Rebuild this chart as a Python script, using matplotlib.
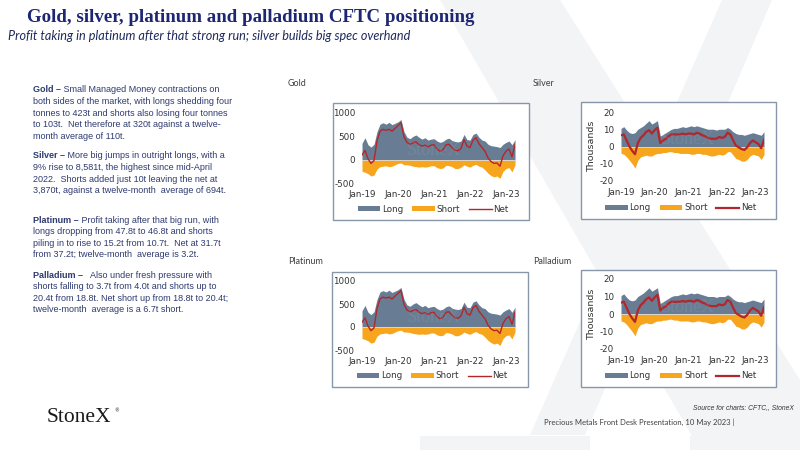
import matplotlib.pyplot as plt
from matplotlib.patches import Rectangle, Polygon
import numpy as np

plt.rcParams["axes.unicode_minus"] = False

# monthly values, Jan-2019 .. Apr-2023
months = np.arange(52)
tick_pos = [0, 12, 24, 36, 48]
tick_labels = ["Jan-19", "Jan-20", "Jan-21", "Jan-22", "Jan-23"]

gold_long = [350, 470, 320, 270, 330, 600, 760, 790, 760, 800, 750, 780,
             810, 860, 600, 480, 450, 500, 530, 480, 440, 470, 420, 440,
             450, 400, 370, 390, 440, 460, 410, 390, 380, 400, 540, 430,
             420, 540, 570, 480, 420, 400, 330, 300, 290, 280, 260, 330,
             370, 400, 320, 430]
gold_short = [-250, -270, -300, -350, -330, -200, -150, -140, -130, -150, -140, -110,
              -80, -70, -110, -110, -120, -140, -150, -160, -150, -160, -150, -130,
              -130, -170, -190, -180, -120, -130, -150, -190, -190, -160, -110, -140,
              -160, -120, -100, -140, -160, -220, -290, -340, -370, -350, -400, -250,
              -190, -170, -260, -110]
gold_net = [100, 200, 20, -80, -20, 400, 610, 650, 630, 650, 610, 670,
            730, 790, 490, 370, 330, 360, 380, 320, 290, 310, 270, 310,
            320, 230, 180, 210, 320, 330, 260, 200, 190, 240, 430, 290,
            260, 420, 470, 340, 260, 180, 40, -40, -80, -70, -140, 80,
            180, 230, 60, 320]

silver_long = [10.5, 11.5, 9.5, 8, 7.5, 8, 10, 11, 12, 13.5, 15, 13,
               14, 15, 6, 7, 8, 9, 10, 10.5, 10.5, 11, 11.5, 11,
               11.5, 12, 11.5, 12, 11.5, 11, 10.5, 10, 10, 10, 9.5, 10,
               10, 10, 11, 10, 8.5, 7.5, 7, 7, 6.5, 7, 7.5, 8,
               7.5, 7, 6.5, 8.6]
silver_short = [-4, -4.5, -6, -8, -10, -12.5, -8, -6, -5.5, -5, -5.5, -5.5,
                -4.5, -4, -4, -3.5, -3.5, -3, -3, -3.5, -3.5, -4, -4, -4,
                -4, -4.5, -4.5, -4, -4, -4.5, -4.5, -5, -5.5, -5.5, -5, -4.5,
                -5, -4.5, -3, -3, -5, -7, -7.5, -8.5, -8.5, -7.5, -5.5, -4.5,
                -5, -5.5, -7.5, -4.7]
silver_net = [6.5, 7, 3.5, 0, -2.5, -4.5, 2, 5, 6.5, 8.5, 9.5, 7.5,
              9.5, 11, 2, 3.5, 4.5, 6, 7, 7, 7, 7, 7.5, 7,
              7.5, 7.5, 7, 8, 7.5, 6.5, 6, 5, 4.5, 4.5, 4.5, 5.5,
              5, 5.5, 8, 7, 3.5, 0.5, -0.5, -1.5, -2, -0.5, 2, 3.5,
              2.5, 1.5, -1, 3.9]

LONG = "#687d93"
SHORT = "#f6a51c"
NET = "#b3262b"
NAVY = "#1c2673"
TEXT = "#2e3a70"

W, H = 800, 450
fig = plt.figure(figsize=(8, 4.5), dpi=100)
fig.patch.set_facecolor("white")


def fx(x):
    return x / W


def fy(y):
    return 1 - y / H


# pale "X" in the background
bg = "#f3f4f6"
for pts in [[(440, 0), (560, 0), (800, 380), (800, 450), (700, 450)],
            [(722, 0), (772, 0), (585, 435), (530, 435)]]:
    fig.patches.append(Polygon([(fx(a), fy(b)) for a, b in pts], closed=True,
                               transform=fig.transFigure, facecolor=bg,
                               edgecolor="none", zorder=0))
for x0, x1 in [(420, 590), (690, 800)]:
    fig.patches.append(Rectangle((fx(x0), fy(450)), fx(x1 - x0), 14 / H,
                                 transform=fig.transFigure, facecolor=bg,
                                 edgecolor="none", zorder=0))

# titles
fig.text(fx(27), fy(17), "Gold, silver, platinum and palladium CFTC positioning",
         family="Liberation Serif", weight="bold", fontsize=13.6, color=NAVY,
         va="center", ha="left")
fig.text(fx(8), fy(36), "Profit taking in platinum after that strong run; silver builds big spec overhand",
         family="Lato", style="italic", fontsize=9.1, color="#1f2a5c",
         va="center", ha="left")

# commentary on the left
paras = [
    ("Gold \u2013", [" Small Managed Money contractions on",
                     "both sides of the market, with longs shedding four",
                     "tonnes to 423t and shorts also losing four tonnes",
                     "to 103t.  Net therefore at 320t against a twelve-",
                     "month average of 110t."], 90),
    ("Silver \u2013", [" More big jumps in outright longs, with a",
                       "9% rise to 8,581t, the highest since mid-April",
                       "2022.  Shorts added just 10t leaving the net at",
                       "3,870t, against a twelve-month  average of 694t."], 156),
    ("Platinum \u2013", [" Profit taking after that big run, with",
                         "longs dropping from 47.8t to 46.8t and shorts",
                         "piling in to rise to 15.2t from 10.7t.  Net at 31.7t",
                         "from 37.2t; twelve-month  average is 3.2t."], 220),
    ("Palladium \u2013", ["   Also under fresh pressure with",
                          "shorts falling to 3.7t from 4.0t and shorts up to",
                          "20.4t from 18.8t. Net short up from 18.8t to 20.4t;",
                          "twelve-month  average is a 6.7t short."], 275),
]
renderer = fig.canvas.get_renderer()
fs_body = 6.5
for head, lines, y0 in paras:
    t = fig.text(fx(33), fy(y0), head, family="Liberation Sans", weight="bold",
                 fontsize=fs_body, color=TEXT, va="center", ha="left")
    wpx = t.get_window_extent(renderer).width
    for i, line in enumerate(lines):
        x = 33 + wpx if i == 0 else 33
        fig.text(fx(x), fy(y0 + i * 11.6), line, family="Liberation Sans",
                 fontsize=fs_body, color=TEXT, va="center", ha="left")


def panel(name, title_xy, frame, box, long_, short_, net, ylim, yticks, thousands, net_lw):
    tx, ty = title_xy
    fig.text(fx(tx), fy(ty), name, family="Lato", fontsize=6.5, color="#404040",
             va="center", ha="left")
    fl, ft, fr, fb = frame
    fig.patches.append(Rectangle((fx(fl), fy(fb)), fx(fr - fl), (fb - ft) / H,
                                 transform=fig.transFigure, facecolor="white",
                                 edgecolor="#8797a9", lw=1.0, zorder=1))
    l, t, r, b = box
    ax = fig.add_axes([fx(l), fy(b), fx(r - l), (b - t) / H])
    ax.set_zorder(2)
    ax.patch.set_alpha(0)
    ax.fill_between(months, 0, long_, color=LONG, lw=0, label="Long")
    ax.fill_between(months, 0, short_, color=SHORT, lw=0, label="Short")
    ax.axhline(0, color="#dcdcdc", lw=0.6)
    ax.text(24, ylim[1] * 0.2, "StoneX", family="Liberation Serif", fontsize=13,
            color="white", alpha=0.07, ha="center", va="center")
    ax.plot(months, net, color=NET, lw=net_lw, label="Net")
    ax.set_xlim(0, 51)
    ax.set_ylim(*ylim)
    ax.set_yticks(yticks)
    ax.set_xticks(tick_pos)
    ax.set_xticklabels(tick_labels)
    for s in ax.spines.values():
        s.set_visible(False)
    ax.tick_params(length=0, labelsize=6.3, colors="#333333", pad=5)
    if thousands:
        ax.set_ylabel("Thousands", fontsize=6.8, color="#333333", labelpad=3)
    cx = (fl + fr) / 2
    ax.legend(loc="center", bbox_to_anchor=(fx(cx + 2), fy(fb - 11)),
              bbox_transform=fig.transFigure, ncol=3, frameon=False,
              fontsize=6.3, handlelength=2.6, handleheight=0.45,
              columnspacing=1.0, handletextpad=0.2, labelcolor="#333333")
    return ax


gold_ticks = [-500, 0, 500, 1000]
silver_ticks = [-20, -10, 0, 10, 20]

panel("Gold", (288, 84), (333, 103, 529, 220), (362, 113, 515, 183),
      gold_long, gold_short, gold_net, (-500, 1000), gold_ticks, False, 1.0)
panel("Silver", (533, 84), (581, 102, 776, 219), (621, 112, 764, 181),
      silver_long, silver_short, silver_net, (-20, 20), silver_ticks, True, 1.6)
panel("Platinum", (288, 262), (332, 272, 528, 387), (362, 281, 515, 350),
      gold_long, gold_short, gold_net, (-500, 1000), gold_ticks, False, 1.0)
panel("Palladium", (533, 262), (581, 270, 776, 387), (621, 279, 764, 349),
      silver_long, silver_short, silver_net, (-20, 20), silver_ticks, True, 1.6)

# footer
fig.text(fx(47), fy(418), "StoneX", family="Liberation Serif", fontsize=15.5,
         color="#1a1a1a", va="center", ha="left")
fig.text(fx(114), fy(411), "\u00ae", family="DejaVu Sans", fontsize=3.5,
         color="#1a1a1a", va="center", ha="left")
fig.text(fx(794), fy(408), "Source for charts: CFTC,, StoneX", family="Liberation Sans",
         style="italic", fontsize=4.9, color="#333333", va="center", ha="right")
fig.text(fx(544), fy(422), "Precious Metals Front Desk Presentation, 10 May 2023 |",
         family="Lato", fontsize=5.5, color="#404040", va="center", ha="left")

fig.savefig("out.png", dpi=100)
